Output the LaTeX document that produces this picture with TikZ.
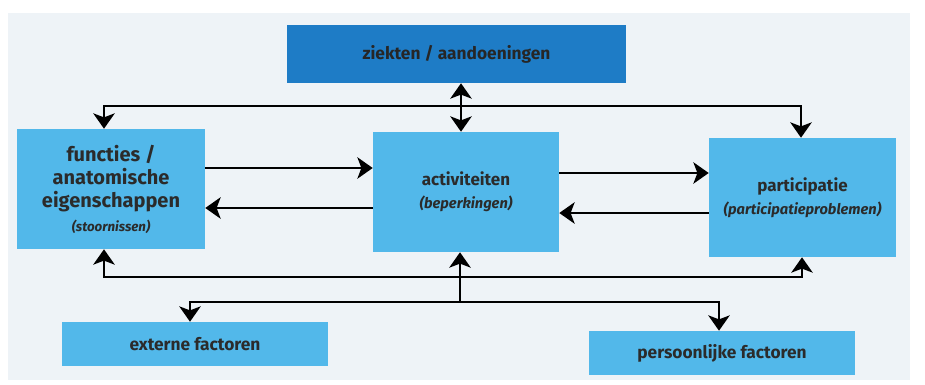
\documentclass[tikz,border=0pt]{standalone}
\usepackage{fontspec}
\setmainfont{Fira Sans}
\usetikzlibrary{arrows.meta}
\definecolor{bgc}{HTML}{EEF3F7}
\definecolor{lightbox}{HTML}{52B8EA}
\definecolor{darkbox}{HTML}{1E7CC6}
\definecolor{txt}{HTML}{2B2B2B}
\begin{document}
\begin{tikzpicture}[x=0.75pt,y=-0.75pt,
  box/.style={fill=lightbox, draw=none, inner sep=0pt, align=center, text=txt,
    font=\fontsize{12.75pt}{17.25pt}\selectfont\bfseries},
  arr/.style={line width=2pt, line join=miter, -{Stealth[length=11.5pt,width=16pt,inset=3pt]}},
  darr/.style={line width=2pt, {Stealth[length=11.5pt,width=16pt,inset=3pt]}-{Stealth[length=11.5pt,width=16pt,inset=3pt]}}]
\fill[white] (0,0) rectangle (925,385);
\fill[bgc] (8,13) rectangle (910,380);
% boxes
\node[box, fill=darkbox, text=black!85, minimum width={339*0.75pt}, minimum height={58*0.75pt},
  font=\fontsize{13pt}{15pt}\selectfont\bfseries] (zk) at (456.5,54) {ziekten / aandoeningen};
\node[box, minimum width={188*0.75pt}, minimum height={120*0.75pt},
  font=\fontsize{15pt}{17.5pt}\selectfont\bfseries] (fu) at (111,189)
  {functies /\\anatomische\\eigenschappen\\{\fontsize{10pt}{17.5pt}\selectfont\itshape (stoornissen)}};
\node[box, minimum width={186*0.75pt}, minimum height={120*0.75pt}] (ac) at (466,192)
  {activiteiten\\{\fontsize{11pt}{17.25pt}\selectfont\itshape (beperkingen)}};
\node[box, minimum width={187*0.75pt}, minimum height={119*0.75pt}] (pa) at (802.5,197.5)
  {participatie\\{\fontsize{11pt}{17.25pt}\selectfont\itshape (participatieproblemen)}};
\node[box, minimum width={266*0.75pt}, minimum height={44*0.75pt},
  font=\fontsize{13pt}{15pt}\selectfont\bfseries] (ex) at (195,344) {externe factoren};
\node[box, minimum width={266*0.75pt}, minimum height={44*0.75pt},
  font=\fontsize{13pt}{15pt}\selectfont\bfseries] (pe) at (722,353) {persoonlijke factoren};
% top connectors
\coordinate (tM) at (461,106);
\coordinate (tL) at (104,106);
\coordinate (tR) at (801,106);
\draw[arr] (tM) -- (tL) -- (fu.north -| tL);
\draw[arr] (tM) -- (tR) -- (pa.north -| tR);
\draw[darr] (zk.south -| tM) -- (ac.north -| tM);
% middle connectors
\coordinate (m1) at (0,168);
\coordinate (m2) at (0,208);
\coordinate (m3) at (0,173);
\coordinate (m4) at (0,213);
\draw[arr] (fu.east |- m1) -- (ac.west |- m1);
\draw[arr] (ac.west |- m2) -- (fu.east |- m2);
\draw[arr] (ac.east |- m3) -- (pa.west |- m3);
\draw[arr] (pa.west |- m4) -- (ac.east |- m4);
% bottom connectors
\coordinate (bM) at (460,277);
\coordinate (bL) at (104,277);
\coordinate (bR) at (802,277);
\coordinate (cM) at (460,302);
\coordinate (cL) at (190,302);
\coordinate (cR) at (719,302);
\draw[arr] (bM) -- (bL) -- (fu.south -| bL);
\draw[arr] (bM) -- (bR) -- (pa.south -| bR);
\draw[arr] (cM) -- (ac.south -| cM);
\draw[arr] (cM) -- (cL) -- (ex.north -| cL);
\draw[arr] (cM) -- (cR) -- (pe.north -| cR);
\end{tikzpicture}
\end{document}
